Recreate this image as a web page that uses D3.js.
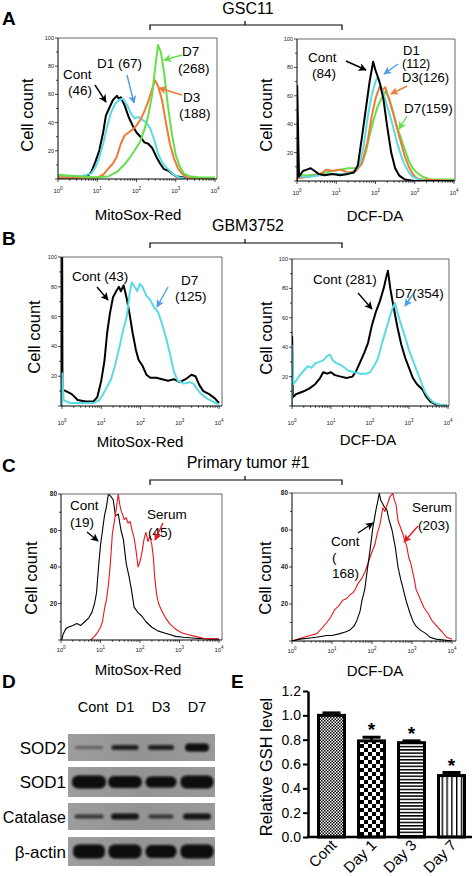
<!DOCTYPE html>
<html><head><meta charset="utf-8">
<script src="https://cdn.jsdelivr.net/npm/d3@7"></script>
<style>body{margin:0;background:#fff}svg{display:block}text{font-family:"Liberation Sans",Arial,sans-serif}</style>
</head><body><svg id="c" width="472" height="876"></svg>
<script>
// ---------- DATA (x = log10 fluorescence, y = cell count) ----------
const a1Cont=[[0,1],[0.5,1],[0.75,2],[0.85,5],[0.95,12],[1.05,20],[1.15,33],[1.22,45],[1.3,50],[1.4,56],[1.5,59],[1.55,57],[1.6,58],[1.7,52],[1.8,44],[1.9,38],[2.0,33],[2.1,30],[2.2,26],[2.3,25],[2.4,22],[2.5,16],[2.6,11],[2.7,7],[2.8,6],[2.9,4],[3.0,2],[3.2,1],[4,0]];
const a1D1=[[0,2],[0.6,2],[0.85,4],[0.95,8],[1.05,15],[1.15,25],[1.25,37],[1.35,47],[1.45,53],[1.55,56],[1.65,57],[1.75,53],[1.85,47],[1.95,43],[2.05,44],[2.15,42],[2.25,40],[2.35,36],[2.45,28],[2.55,18],[2.65,12],[2.8,7],[2.95,3],[3.1,1],[3.3,0],[4,0]];
const a1D3=[[0,1],[1.0,1],[1.15,3],[1.3,8],[1.4,11],[1.5,16],[1.6,25],[1.7,31],[1.8,33],[1.9,35],[2.0,38],[2.1,42],[2.2,48],[2.3,55],[2.4,64],[2.47,70],[2.55,66],[2.65,56],[2.75,40],[2.85,25],[2.95,15],[3.05,8],[3.15,4],[3.3,1],[4,0]];
const a1D7=[[0,3],[0.5,2],[1.0,1],[1.3,2],[1.5,5],[1.65,9],[1.8,14],[1.95,20],[2.1,27],[2.2,35],[2.3,45],[2.4,60],[2.48,80],[2.55,95],[2.62,90],[2.7,76],[2.8,52],[2.9,32],[3.0,17],[3.1,9],[3.2,4],[3.35,2],[3.6,1],[4,1]];
const a2Cont=[[0,0],[0.005,67],[0.05,3],[0.15,7],[0.25,8],[0.35,9],[0.45,7],[0.55,5],[0.7,4],[0.9,5],[1.1,4],[1.3,5],[1.45,6],[1.55,11],[1.65,30],[1.75,50],[1.85,70],[1.94,84],[2.0,78],[2.1,70],[2.2,58],[2.3,38],[2.4,20],[2.5,9],[2.6,4],[2.75,1],[3,0],[4,0]];
const a2D1=[[0,0],[0.005,30],[0.05,3],[0.3,3],[0.6,4],[0.9,5],[1.2,5],[1.45,6],[1.6,12],[1.7,25],[1.8,45],[1.9,60],[2.0,70],[2.06,73],[2.15,66],[2.25,57],[2.35,48],[2.45,38],[2.55,27],[2.65,18],[2.75,11],[2.85,6],[2.95,3],[3.1,1],[3.3,0],[4,0]];
const a2D3=[[0,2],[0.3,3],[0.6,5],[0.75,8],[0.9,7],[1.1,8],[1.3,6],[1.5,7],[1.65,12],[1.8,28],[1.9,45],[2.0,58],[2.1,66],[2.18,64],[2.25,66],[2.35,57],[2.45,48],[2.55,37],[2.65,27],[2.75,17],[2.85,10],[2.95,5],[3.05,2],[3.2,1],[4,0]];
const a2D7=[[0,0],[0.005,27],[0.05,4],[0.3,4],[0.6,5],[0.9,7],[1.1,8],[1.3,9],[1.5,9],[1.65,12],[1.75,20],[1.85,32],[1.95,43],[2.05,52],[2.15,58],[2.25,63],[2.35,58],[2.45,48],[2.55,38],[2.65,30],[2.75,22],[2.85,14],[2.95,9],[3.05,6],[3.2,3],[3.4,1],[4,1]];
const b1Cont=[[0,0],[0.004,104],[0.012,11],[0.1,10],[0.25,8],[0.4,4],[0.6,3],[0.8,3],[0.9,6],[1.0,17],[1.08,30],[1.15,49],[1.22,62],[1.3,73],[1.38,77],[1.45,80],[1.5,77],[1.57,81],[1.65,72],[1.72,62],[1.8,49],[1.88,38],[1.95,31],[2.05,27],[2.15,21],[2.25,19],[2.4,19],[2.55,18],[2.7,17],[2.85,18],[3.0,16],[3.15,18],[3.3,21],[3.4,20],[3.5,14],[3.6,10],[3.75,8],[3.9,5],[4,2]];
const b1D7=[[0,0],[0.005,22],[0.04,4],[0.2,2],[0.5,2],[0.8,2],[0.95,4],[1.05,8],[1.15,13],[1.25,18],[1.35,27],[1.45,38],[1.55,50],[1.65,60],[1.72,75],[1.78,83],[1.85,80],[1.92,77],[1.98,82],[2.05,80],[2.15,74],[2.25,71],[2.35,66],[2.45,63],[2.55,55],[2.65,46],[2.75,35],[2.85,23],[2.95,17],[3.1,15],[3.25,16],[3.35,15],[3.45,11],[3.55,8],[3.7,5],[3.85,3],[4,1]];
const b2Cont=[[0,0],[0.004,47],[0.02,6],[0.1,8],[0.2,9],[0.3,10],[0.45,12],[0.6,15],[0.72,19],[0.8,23],[0.9,22],[1.0,23],[1.1,21],[1.25,20],[1.4,19],[1.55,20],[1.65,24],[1.75,30],[1.85,36],[1.95,43],[2.05,55],[2.15,64],[2.25,71],[2.35,80],[2.42,88],[2.46,92],[2.52,80],[2.6,68],[2.7,54],[2.8,42],[2.9,33],[3.0,26],[3.1,19],[3.2,15],[3.35,11],[3.45,6],[3.55,3],[3.7,1],[4,0]];
const b2D7=[[0,0],[0.005,41],[0.03,15],[0.1,17],[0.2,21],[0.3,24],[0.4,27],[0.5,26],[0.6,29],[0.7,30],[0.8,31],[0.9,34],[0.97,35],[1.05,31],[1.15,29],[1.25,28],[1.35,26],[1.45,24],[1.6,23],[1.75,22],[1.9,22],[2.0,23],[2.1,27],[2.2,32],[2.3,42],[2.4,51],[2.5,60],[2.57,66],[2.64,70],[2.7,64],[2.8,55],[2.9,47],[3.0,38],[3.1,31],[3.2,24],[3.3,17],[3.4,10],[3.5,6],[3.6,3],[3.75,1],[4,0]];
const c1Cont=[[0.02,0],[0.05,3],[0.12,6],[0.18,7],[0.3,8],[0.4,9],[0.5,8],[0.6,10],[0.7,12],[0.78,15],[0.85,20],[0.9,26],[0.95,40],[1.0,52],[1.05,60],[1.1,68],[1.15,73],[1.2,80],[1.25,79],[1.32,77],[1.38,68],[1.45,69],[1.52,60],[1.58,55],[1.65,42],[1.72,35],[1.78,28],[1.85,18],[1.95,15],[2.05,13],[2.15,10],[2.3,7],[2.45,5],[2.6,4],[2.75,3],[2.9,2],[3.1,1.5],[3.4,1],[3.8,0.5],[4,0.5]];
const c1Serum=[[0.75,0],[0.85,2],[0.92,4],[1.0,7],[1.05,10],[1.1,17],[1.15,22],[1.2,30],[1.25,42],[1.3,58],[1.35,65],[1.4,72],[1.45,80],[1.49,74],[1.52,71],[1.57,68],[1.6,66],[1.65,67],[1.7,64],[1.75,65],[1.8,60],[1.85,56],[1.9,49],[1.95,40],[2.0,43],[2.05,48],[2.1,55],[2.15,59],[2.2,54],[2.25,57],[2.3,52],[2.34,45],[2.37,35],[2.42,25],[2.47,20],[2.55,16],[2.65,12],[2.75,9],[2.9,6],[3.05,4],[3.2,3],[3.4,2],[3.6,1],[4,0.5]];
const c2Cont=[[0,0],[0.2,1],[0.4,1.5],[0.6,2],[0.87,3],[1.0,3],[1.2,4],[1.35,5],[1.45,6],[1.55,8],[1.62,11],[1.7,16],[1.75,22],[1.82,28],[1.88,38],[1.95,49],[2.02,61],[2.1,71],[2.15,76],[2.18,80],[2.22,76],[2.27,74],[2.32,72],[2.37,71],[2.42,66],[2.5,60],[2.58,51],[2.65,40],[2.72,33],[2.77,29],[2.85,22],[2.95,15],[3.02,11],[3.1,8],[3.2,6],[3.35,4],[3.45,2],[3.6,1],[4,0]];
const c2Serum=[[0,0],[0.15,1],[0.3,2],[0.45,3],[0.62,4],[0.75,7],[0.87,10],[0.97,13],[1.07,17],[1.17,19],[1.27,22],[1.37,23],[1.45,25],[1.52,26],[1.58,28],[1.65,31],[1.75,34],[1.82,37],[1.9,42],[1.98,47],[2.07,52],[2.13,58],[2.2,63],[2.27,72],[2.32,70],[2.37,73],[2.45,78],[2.52,80],[2.56,76],[2.6,74],[2.65,65],[2.7,62],[2.77,58],[2.82,54],[2.87,51],[2.92,45],[2.97,42],[3.02,37],[3.06,33],[3.1,28],[3.2,23],[3.3,18],[3.4,15],[3.5,11],[3.62,8],[3.75,5],[3.87,2],[4,1]];

const decades=[0,1,2,3,4];
const yTicks100=[0,10,20,30,40,50,60,70,80,90,100];
const yTicks80=[0,10,20,30,40,50,60,70,80];

// Western blot (band density 0-1, band thickness / width in relative units)
const blotLanes=['Cont','D1','D3','D7'];
const blotProteins=['SOD2','SOD1','Catalase','β-actin'];
const blotDensity=[[0.4,0.85,0.85,1.0],[1,1,1,1],[0.7,0.95,0.7,0.95],[1,1,1,1]];
const blotThick=[[3,5,5,8],[13,12,11,13],[4,6,4,6],[14,14,13,14]];
const blotWidth=[[28,27,26,24],[34,34,31,33],[29,28,25,28],[32,33,31,33]];

// GSH bar chart
const gshCats=['Cont','Day 1','Day 3','Day 7'];
const gshVals=[1.0,0.79,0.775,0.505];
const gshErr=[0.02,0.03,0.015,0.025];
const gshSig=[false,true,true,true];
const gshTicks=[0,0.2,0.4,0.6,0.8,1.0,1.2];

// ---------- DRAWING ----------
const svg=d3.select('#c');
const defs=svg.append('defs');
const FONT='"Liberation Sans",Arial,sans-serif';
const COL={black:'#000',cyan:'#5adbe3',orange:'#f07a35',green:'#64df4c',blue:'#4a9fe8',red:'#e8161e'};

Object.entries(COL).forEach(([k,c])=>{
  defs.append('marker').attr('id','ar_'+k).attr('viewBox','0 0 10 10').attr('refX',9).attr('refY',5)
   .attr('markerWidth',8).attr('markerHeight',8).attr('markerUnits','userSpaceOnUse').attr('orient','auto')
   .append('path').attr('d','M0,0L10,5L0,10L2.5,5Z').attr('fill',c);
});

function txt(x,y,s,size,opt={}){
  const t=svg.append('text').attr('x',x).attr('y',y).attr('font-size',size).attr('fill',opt.fill||'#000')
   .attr('text-anchor',opt.anchor||'start').attr('font-weight',opt.weight||'normal').text(s);
  if(opt.rotate!==undefined) t.attr('transform',`rotate(${opt.rotate},${x},${y})`);
  return t;
}
function arrow(x1,y1,x2,y2,col){
  svg.append('line').attr('x1',x1).attr('y1',y1).attr('x2',x2).attr('y2',y2)
   .attr('stroke',COL[col]).attr('stroke-width',1.4).attr('marker-end',`url(#ar_${col})`);
}

const layout={
 A1:{left:58,right:217,x0:58,x1:215,top:38,bottom:179,ymax:100,lblDy:14,lw:2},
 A2:{left:297,right:455,x0:297,x1:454,top:39,bottom:181,ymax:100,lblDy:14,lw:2},
 B1:{left:61,right:222,x0:62,x1:219,top:257,bottom:406,ymax:100,lblDy:19,lw:2},
 B2:{left:292,right:449,x0:292,x1:448,top:259,bottom:406,ymax:100,lblDy:19,lw:2},
 C1:{left:61,right:222,x0:61,x1:219,top:494,bottom:640,ymax:80,lblDy:12,lw:1.1,bold:true},
 C2:{left:292,right:456,x0:292,x1:452,top:493,bottom:641,ymax:80,lblDy:12,lw:1.1,bold:true}
};

function histPanel(key,series){
  const L=layout[key];
  const x=d3.scaleLog().domain([1,1e4]).range([L.x0,L.x1]);
  const y=d3.scaleLinear().domain([0,L.ymax]).range([L.bottom,L.top]);
  const g=svg.append('g');
  defs.append('clipPath').attr('id','clip'+key).append('rect')
    .attr('x',L.left).attr('y',L.top).attr('width',L.right-L.left).attr('height',L.bottom-L.top);
  const line=d3.line().x(d=>x(Math.pow(10,d[0]))).y(d=>y(d[1]));
  const cg=g.append('g').attr('clip-path',`url(#clip${key})`);
  series.forEach(s=>{
    cg.append('path').datum(s.data).attr('d',line).attr('fill','none')
      .attr('stroke',COL[s.color]).attr('stroke-width',L.lw).attr('stroke-linejoin','round');
  });
  g.append('path').attr('d',`M${L.left},${L.top}H${L.right}V${L.bottom}`).attr('fill','none').attr('stroke','#555').attr('stroke-width',0.9);
  g.append('path').attr('d',`M${L.left},${L.top}V${L.bottom}H${L.right}`).attr('fill','none').attr('stroke','#000').attr('stroke-width',1);
  const yt=L.ymax===100?yTicks100:yTicks80;
  yt.forEach(v=>{
    const major=v%20===0;
    g.append('line').attr('x1',L.left).attr('x2',L.left-(major?3:2)).attr('y1',y(v)).attr('y2',y(v)).attr('stroke','#000').attr('stroke-width',0.7);
    if(major&&v>0){
      g.append('text').attr('x',L.left-4).attr('y',y(v)+2).attr('font-size',L.bold?6.5:5.5).attr('font-weight',L.bold?'bold':'normal')
        .attr('text-anchor','end').attr('fill','#222').text(v);
    }
  });
  decades.forEach(k=>{
    const mm=k<4?[1,2,3,4,5,6,7,8,9]:[1];
    mm.forEach(m=>{
      const v=m*Math.pow(10,k);
      g.append('line').attr('x1',x(v)).attr('x2',x(v)).attr('y1',L.bottom).attr('y2',L.bottom+(m===1?3:1.8)).attr('stroke','#000').attr('stroke-width',0.7);
    });
    const t=g.append('text').attr('x',x(Math.pow(10,k))).attr('y',L.bottom+L.lblDy).attr('font-size',6).attr('text-anchor','middle').attr('fill','#222');
    t.append('tspan').text('10');
    t.append('tspan').attr('font-size',4.5).attr('dy',-3).text(k);
  });
  return {x,y};
}

// Panel letters and titles
txt(2,25,'A',19,{weight:'bold'});
txt(2,245,'B',19,{weight:'bold'});
txt(2,472,'C',19,{weight:'bold'});
txt(2,688,'D',19,{weight:'bold'});
txt(231,688,'E',19,{weight:'bold'});

function bracket(yb,title,ty){
  svg.append('path').attr('d',`M150,${yb+5}V${yb}H342V${yb+5}M245,${yb}V${yb-4}`).attr('fill','none').attr('stroke','#000').attr('stroke-width',1.2);
  txt(248,ty,title,16,{anchor:'middle'});
}
bracket(25,'GSC11',14);
bracket(243,'GBM3752',231);
bracket(480,'Primary tumor #1',468);

// Panel A
histPanel('A1',[{data:a1Cont,color:'black'},{data:a1D1,color:'cyan'},{data:a1D3,color:'orange'},{data:a1D7,color:'green'}]);
histPanel('A2',[{data:a2D7,color:'green'},{data:a2D3,color:'orange'},{data:a2D1,color:'cyan'},{data:a2Cont,color:'black'}]);
txt(33,115,'Cell count',16.5,{anchor:'middle',rotate:-90});
txt(272,115,'Cell count',16.5,{anchor:'middle',rotate:-90});
txt(138,220,'MitoSox-Red',15,{anchor:'middle'});
txt(375,221,'DCF-DA',15,{anchor:'middle'});
txt(63,79,'Cont',13.5); txt(68,95,'(46)',13.5); arrow(95,85,106,102,'black');
txt(97,68,'D1 (67)',13.5); arrow(127,75,134,103,'blue');
txt(182,56,'D7',13.5); txt(178,73,'(268)',13.5); arrow(182,55,164,60,'green');
txt(183,102,'D3',13.5); txt(179,118,'(188)',13.5); arrow(182,95,159,88,'orange');
txt(308,62,'Cont',13.5); txt(312,78,'(84)',13.5); arrow(346,61,366,70,'black');
txt(403,55,'D1',13); txt(402,68,'(112)',12.5); arrow(398,64,384,74,'blue');
txt(402,82,'D3(126)',13); arrow(407,86,391,94,'orange');
txt(404,113,'D7(159)',13.5); arrow(407,116,399,129,'green');

// Panel B
histPanel('B1',[{data:b1Cont,color:'black'},{data:b1D7,color:'cyan'}]);
histPanel('B2',[{data:b2Cont,color:'black'},{data:b2D7,color:'cyan'}]);
txt(40,337,'Cell count',16.5,{anchor:'middle',rotate:-90});
txt(272,338,'Cell count',16.5,{anchor:'middle',rotate:-90});
txt(140,447,'MitoSox-Red',15,{anchor:'middle'});
txt(368,445,'DCF-DA',15,{anchor:'middle'});
txt(72,281,'Cont (43)',13.5); arrow(97,287,108,300,'black');
txt(181,285,'D7',13.5); txt(175,301,'(125)',13.5); arrow(168,287,157,307,'blue');
txt(313,284,'Cont (281)',13.5); arrow(358,293,372,309,'black');
txt(395,298,'D7(354)',13.5); arrow(413,294,405,306,'blue');

// Panel C
histPanel('C1',[{data:c1Cont,color:'black'},{data:c1Serum,color:'red'}]);
histPanel('C2',[{data:c2Serum,color:'red'},{data:c2Cont,color:'black'}]);
txt(37,578,'Cell count',16.5,{anchor:'middle',rotate:-90});
txt(271,578,'Cell count',16.5,{anchor:'middle',rotate:-90});
txt(138,675,'MitoSox-Red',15,{anchor:'middle'});
txt(375,676,'DCF-DA',15,{anchor:'middle'});
txt(70,510,'Cont',13.5); txt(70,527,'(19)',13.5); arrow(87,532,98,541,'black');
txt(147,519,'Serum',13.5); txt(148,537,'(45)',13.5); arrow(163,523,155,540,'red');
txt(412,512,'Serum',13.5); txt(418,530,'(203)',13.5); arrow(418,526,404,542,'red');
txt(331,546,'Cont',13.5); txt(332,562,'(',13.5); txt(332,578,'168)',13.5); arrow(358,533,373,523,'black');

// ---------- Panel D: Western blot ----------
const blotRows=[[734,761],[767,797],[803,830],[837,866]];
const laneX=d3.scalePoint().domain(blotLanes).range([89,197]);
const grad=defs.append('linearGradient').attr('id','blotbg').attr('x1',0).attr('x2',1).attr('y1',0).attr('y2',0);
grad.append('stop').attr('offset','0%').attr('stop-color','#9d9d9d');
grad.append('stop').attr('offset','50%').attr('stop-color','#939393');
grad.append('stop').attr('offset','100%').attr('stop-color','#9a9a9a');
const blur=defs.append('filter').attr('id','bandblur').attr('x','-20%').attr('y','-50%').attr('width','140%').attr('height','200%');
blur.append('feGaussianBlur').attr('stdDeviation',1.1);
blotLanes.forEach(l=>txt(laneX(l)+(l==='Cont'?4:0),712,l,14.5,{anchor:'middle'}));
blotProteins.forEach((p,i)=>{
  const [y0,y1]=blotRows[i];
  svg.append('rect').attr('x',68).attr('y',y0).attr('width',147).attr('height',y1-y0).attr('fill','url(#blotbg)');
  txt(66,(y0+y1)/2+6,p,p==='Catalase'?16:17,{anchor:'end'});
  const cy=(y0+y1)/2;
  blotLanes.forEach((l,j)=>{
    const w=blotWidth[i][j], h=blotThick[i][j];
    svg.append('rect').attr('x',laneX(l)-w/2).attr('y',cy-h/2).attr('width',w).attr('height',h)
      .attr('rx',Math.min(h/2,6)).attr('fill','#0a0a0a').attr('opacity',blotDensity[i][j]).attr('filter','url(#bandblur)');
  });
});

// ---------- Panel E: GSH bar chart ----------
const ex=d3.scaleBand().domain(gshCats).range([308,475]).paddingInner(0.275).paddingOuter(0.225);
const ey=d3.scaleLinear().domain([0,1.2]).range([837,691]);
const p0=defs.append('pattern').attr('id','pat0').attr('patternUnits','userSpaceOnUse').attr('width',3).attr('height',3);
p0.append('rect').attr('width',3).attr('height',3).attr('fill','#fff');
p0.append('rect').attr('width',1.5).attr('height',1.5).attr('fill','#000');
p0.append('rect').attr('x',1.5).attr('y',1.5).attr('width',1.5).attr('height',1.5).attr('fill','#000');
const p1=defs.append('pattern').attr('id','pat1').attr('patternUnits','userSpaceOnUse').attr('width',8).attr('height',8);
p1.append('rect').attr('width',8).attr('height',8).attr('fill','#fff');
p1.append('rect').attr('width',4).attr('height',4).attr('fill','#000');
p1.append('rect').attr('x',4).attr('y',4).attr('width',4).attr('height',4).attr('fill','#000');
const p2=defs.append('pattern').attr('id','pat2').attr('patternUnits','userSpaceOnUse').attr('width',4).attr('height',3.3);
p2.append('rect').attr('width',4).attr('height',3.3).attr('fill','#fff');
p2.append('rect').attr('width',4).attr('height',1.5).attr('fill','#000');
const p3=defs.append('pattern').attr('id','pat3').attr('patternUnits','userSpaceOnUse').attr('width',4.8).attr('height',4);
p3.append('rect').attr('width',4.8).attr('height',4).attr('fill','#fff');
p3.append('rect').attr('width',1.4).attr('height',4).attr('fill','#000');

const eg=svg.append('g');
gshCats.forEach((c,i)=>{
  const bx=ex(c), bw=ex.bandwidth(), cx=bx+bw/2;
  const v=gshVals[i], e=gshErr[i];
  eg.append('line').attr('x1',cx).attr('x2',cx).attr('y1',ey(v)).attr('y2',ey(v+e)).attr('stroke','#000').attr('stroke-width',2.5);
  eg.append('line').attr('x1',cx-9).attr('x2',cx+9).attr('y1',ey(v+e)).attr('y2',ey(v+e)).attr('stroke','#000').attr('stroke-width',3);
  eg.append('rect').attr('x',bx+1.5).attr('y',ey(v)).attr('width',bw-3).attr('height',ey(0)-ey(v))
    .attr('fill',`url(#pat${i})`).attr('stroke','#000').attr('stroke-width',3);
  if(gshSig[i]) eg.append('text').attr('x',cx).attr('y',ey(v+e)-1).attr('text-anchor','middle').attr('font-size',19).attr('font-weight','bold').text('*');
  eg.append('text').attr('transform',`translate(${cx+6},${846}) rotate(-45)`).attr('text-anchor','end').attr('font-size',15).text(c);
});
const yAxis=eg.append('g').attr('transform','translate(308,0)').call(d3.axisLeft(ey).tickValues(gshTicks).tickFormat(d3.format('.1f')).tickSize(5).tickSizeOuter(0));
yAxis.select('.domain').attr('stroke-width',2.5);
yAxis.selectAll('.tick line').attr('stroke-width',2);
yAxis.selectAll('.tick text').attr('font-size',14).attr('font-family',FONT).attr('x',-7);
eg.append('line').attr('x1',307).attr('x2',472).attr('y1',ey(0)).attr('y2',ey(0)).attr('stroke','#000').attr('stroke-width',2.5);
txt(272,767,'Relative GSH level',16.5,{anchor:'middle',rotate:-90});
</script></body></html>
